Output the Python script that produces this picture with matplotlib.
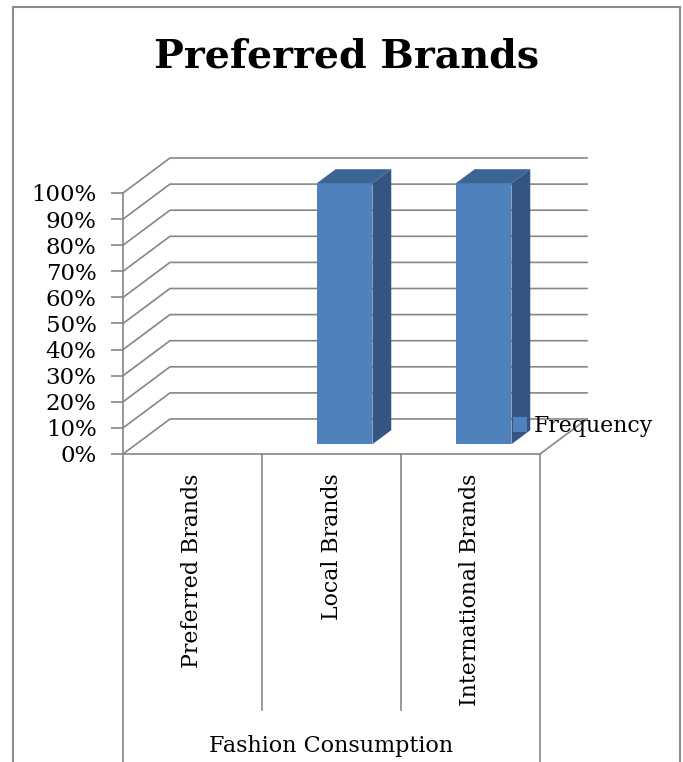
import matplotlib
matplotlib.use("Agg")
import matplotlib.pyplot as plt
import matplotlib.transforms as mtransforms
from matplotlib.lines import Line2D
from matplotlib.patches import Polygon, Rectangle, Patch
from matplotlib.ticker import PercentFormatter

# data
categories = ["Preferred Brands", "Local Brands", "International Brands"]
frequency = [0, 100, 100]          # percent of respondents
y_ticks = list(range(0, 101, 10))

chart_title = "Preferred Brands"
x_title = "Fashion Consumption"
series_name = "Frequency"

FRONT = "#4F81BD"
TOP = "#3D6594"
SIDE = "#345581"
GRID = "#868686"

plt.rcParams["font.family"] = ["DejaVu Serif"]

W, H = 683, 762
fig = plt.figure(figsize=(W / 100, H / 100), dpi=100)

# front plane of the 3-D box, in pixels: x 123..540, y 193..454
ax = fig.add_axes([123 / W, 1 - 454 / H, 417 / W, 261 / H])
n = len(categories)
ax.set_xlim(-0.5, n - 0.5)
ax.set_ylim(0, 100)

# depth of the box (47 px right, 35 px up) expressed in data units
DX = 47 / (417 / n)
DY = 35 / (261 / 100)

# back wall gridlines with their diagonal on the left wall
for v in y_ticks:
    ax.plot([-0.5, -0.5 + DX, n - 0.5 + DX], [v, v + DY, v + DY],
            color=GRID, lw=1.2, clip_on=False, zorder=1)
# floor front edge and right edge
ax.plot([-0.5, n - 0.5, n - 0.5 + DX], [0, 0, DY],
        color=GRID, lw=1.2, clip_on=False, zorder=1)

# 3-D bars
half_w = 0.2
d0, d1 = 0.28, 0.68
for i, v in enumerate(frequency):
    if v <= 0:
        continue
    x0, x1 = i - half_w, i + half_w
    ax.add_patch(Rectangle((x0 + d0 * DX, d0 * DY), x1 - x0, v,
                           facecolor=FRONT, edgecolor="none",
                           clip_on=False, zorder=3))
    ax.add_patch(Polygon([(x0 + d0 * DX, v + d0 * DY), (x1 + d0 * DX, v + d0 * DY),
                          (x1 + d1 * DX, v + d1 * DY), (x0 + d1 * DX, v + d1 * DY)],
                         closed=True, facecolor=TOP, edgecolor="none",
                         clip_on=False, zorder=3))
    ax.add_patch(Polygon([(x1 + d0 * DX, d0 * DY), (x1 + d1 * DX, d1 * DY),
                          (x1 + d1 * DX, v + d1 * DY), (x1 + d0 * DX, v + d0 * DY)],
                         closed=True, facecolor=SIDE, edgecolor="none",
                         clip_on=False, zorder=3))

# axes styling
for side in ["top", "right", "bottom"]:
    ax.spines[side].set_visible(False)
ax.spines["left"].set_color(GRID)
ax.spines["left"].set_linewidth(1.2)
ax.set_yticks(y_ticks)
ax.yaxis.set_major_formatter(PercentFormatter(decimals=0))
ax.tick_params(axis="y", length=9, width=1.2, color=GRID, pad=10,
               labelsize=16.5)
ax.set_xticks(range(n))
ax.set_xticklabels(categories, rotation=90, va="top")
ax.tick_params(axis="x", length=0, pad=14, labelsize=15.8)
ax.patch.set_visible(False)

# category separators under the floor
blend = mtransforms.blended_transform_factory(ax.transData, fig.transFigure)
for k in range(n + 1):
    xb = k - 0.5
    y_end = 0 if k in (0, n) else 1 - 710 / H
    ax.add_line(Line2D([xb, xb], [1 - 454 / H, y_end], transform=blend,
                       color=GRID, lw=1.2, clip_on=False))

# axis title under the categories
blend_ax = mtransforms.blended_transform_factory(ax.transAxes, fig.transFigure)
ax.text(0.5, 1 - 746 / H, x_title, transform=blend_ax,
        ha="center", va="center", fontsize=16)

# chart title
fig.text(347 / W, 1 - 57 / H, chart_title, ha="center", va="center",
         fontsize=28.5, fontweight="bold")

# legend
ax.legend(handles=[Patch(facecolor=FRONT, edgecolor="none")],
          labels=[series_name], loc="center left",
          bbox_to_anchor=(513 / W, 1 - 426 / H), bbox_transform=fig.transFigure,
          frameon=False, fontsize=15.8, handlelength=0.65, handleheight=0.7,
          handletextpad=0.3, borderpad=0, borderaxespad=0)

# outer chart-area border (open at the bottom, as in the page crop)
for xs, ys in [([13, 13], [762, 7]), ([13, 680], [7, 7]), ([680, 680], [7, 762])]:
    fig.add_artist(Line2D([x / W for x in xs], [1 - y / H for y in ys],
                          transform=fig.transFigure, color="#8c8c8c", lw=1.5))

fig.savefig("out.png", dpi=100, facecolor="white")
